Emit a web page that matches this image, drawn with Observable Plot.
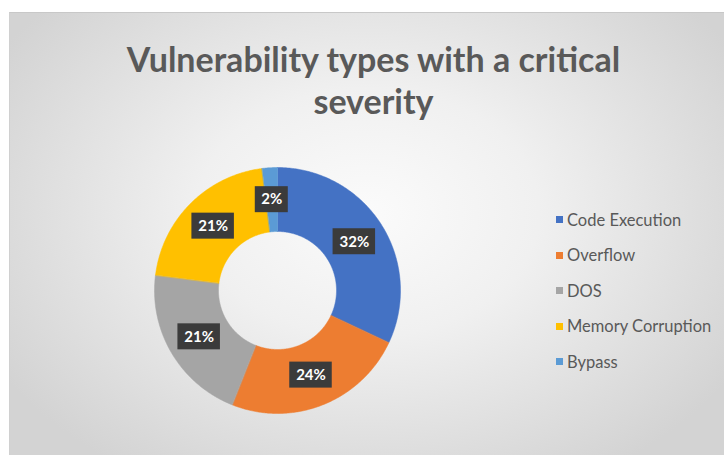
<!DOCTYPE html>
<html>
<head>
<meta charset="utf-8">
<script src="https://cdn.jsdelivr.net/npm/d3@7"></script>
<script src="https://cdn.jsdelivr.net/npm/@observablehq/plot@0.6"></script>
<style>
  html, body { margin: 0; padding: 0; background: #ffffff; }
  body { width: 724px; height: 455px; position: relative; overflow: hidden; font-family: Lato, "Open Sans", sans-serif; }
  #panel {
    position: absolute; left: 9px; top: 12px; width: 715px; height: 443px;
    background: radial-gradient(ellipse 60% 70% at 50% 45%, #fbfbfb 0%, #f0f0f0 40%, #d3d3d3 100%);
    border-top: 1px solid #c8c8c8; border-left: 1px solid #d0d0d0;
  }
  #title {
    position: absolute; left: 0; width: 727px; top: 25px; text-align: center;
    font-family: Lato, sans-serif; font-weight: 700; font-size: 34px; line-height: 42px; color: #595959;
  }
  #chart { position: absolute; left: 142px; top: 152px; }
  #legend { position: absolute; left: 546px; top: 189px; }
  .row { display: flex; align-items: center; height: 35.5px; font-size: 16.5px; color: #595959; font-family: Lato, sans-serif; }
  .sw { width: 7px; height: 7px; margin-right: 4px; }
</style>
</head>
<body>
<div id="panel">
  <div id="title">Vulnerability types with a critical<br>severity</div>
  <div id="chart"></div>
  <div id="legend"></div>
</div>
<script>
const categories = ["Code Execution", "Overflow", "DOS", "Memory Corruption", "Bypass"];
const values = [32, 24, 21, 21, 2];
const labels = ["32%", "24%", "21%", "21%", "2%"];
const colors = ["#4472C4", "#ED7D31", "#A5A5A5", "#FFC000", "#5B9BD5"];

const size = 250;
const rOuter = 123 / 125, rInner = 59 / 125, rLabel = (rOuter + rInner) / 2;

const pie = d3.pie().sort(null).value(d => d.value)(categories.map((name, i) => ({name, value: values[i], label: labels[i]})));

// arc outlines as polygons in data space
const ringPts = [];
pie.forEach(p => {
  const n = Math.max(4, Math.ceil((p.endAngle - p.startAngle) / 0.01));
  for (let k = 0; k <= n; k++) {
    const a = p.startAngle + (p.endAngle - p.startAngle) * k / n;
    ringPts.push({name: p.data.name, x: rOuter * Math.sin(a), y: rOuter * Math.cos(a)});
  }
  for (let k = n; k >= 0; k--) {
    const a = p.startAngle + (p.endAngle - p.startAngle) * k / n;
    ringPts.push({name: p.data.name, x: rInner * Math.sin(a), y: rInner * Math.cos(a)});
  }
});

const labelData = pie.map(p => {
  const a = (p.startAngle + p.endAngle) / 2;
  const w = (p.data.label.length * 9.5 + 14) / 125 / 2;
  const h = 13 / 125;
  const x = rLabel * Math.sin(a), y = rLabel * Math.cos(a);
  return {label: p.data.label, x, y, x1: x - w, x2: x + w, y1: y - h, y2: y + h};
});

const plot = Plot.plot({
  width: size, height: size,
  margin: 0,
  x: {domain: [-1, 1], axis: null},
  y: {domain: [-1, 1], axis: null},
  color: {domain: categories, range: colors},
  style: {background: "transparent", overflow: "visible"},
  marks: [
    Plot.line(ringPts, {x: "x", y: "y", z: "name", fill: "name", stroke: "name", strokeWidth: 0.5, curve: "linear-closed"}),
    Plot.rect(labelData, {x1: "x1", x2: "x2", y1: "y1", y2: "y2", fill: "#3b3b3b"}),
    Plot.text(labelData, {x: "x", y: "y", text: "label", fill: "#ffffff", fontSize: 15, fontWeight: "bold", fontFamily: "Lato, sans-serif"})
  ]
});
document.getElementById("chart").appendChild(plot);

const legend = document.getElementById("legend");
categories.forEach((c, i) => {
  const row = document.createElement("div");
  row.className = "row";
  const sw = document.createElement("div");
  sw.className = "sw";
  sw.style.background = colors[i];
  const t = document.createElement("span");
  t.textContent = c;
  row.appendChild(sw); row.appendChild(t);
  legend.appendChild(row);
});
</script>
</body>
</html>
